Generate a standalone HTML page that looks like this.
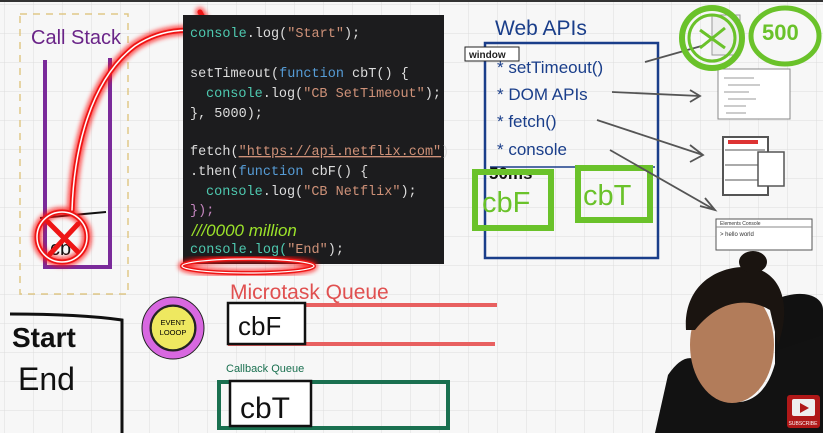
<!DOCTYPE html>
<html><head><meta charset="utf-8"><style>
html,body{margin:0;padding:0;width:823px;height:433px;overflow:hidden;background:#f5f5f5}
svg{display:block}
.code{font-family:"Liberation Mono",monospace;font-size:13.5px}
.hand{font-family:"Liberation Sans",sans-serif}
</style></head><body>
<svg width="823" height="433" viewBox="0 0 823 433" xmlns="http://www.w3.org/2000/svg">
<defs>
<pattern id="g" width="29" height="29" patternUnits="userSpaceOnUse" x="5" y="5">
<path d="M29 0V29H0" fill="none" stroke="#dcdcdc" stroke-width="1"/></pattern>
<filter id="glow" x="-20%" y="-20%" width="140%" height="140%"><feGaussianBlur stdDeviation="2.5"/></filter>
</defs>
<rect width="823" height="433" fill="#f7f7f7"/>
<rect width="823" height="433" fill="url(#g)"/>
<rect x="0" y="0" width="823" height="2" fill="#333"/>

<!-- Call stack -->
<rect x="20" y="14" width="108" height="280" fill="none" stroke="#e0c888" stroke-width="1.5" stroke-dasharray="7 6"/>
<text x="31" y="44" class="hand" font-size="20" fill="#6a2488">Call Stack</text>
<path d="M45 60V267H110V58" fill="none" stroke="#7a2a9a" stroke-width="4"/>
<path d="M40 218L106 212" stroke="#111" stroke-width="2"/>
<text x="50" y="255" class="hand" font-size="20" fill="#111">cb</text>
<g fill="none" stroke-linecap="round">
<g stroke="#ff1010" stroke-width="9" filter="url(#glow)" opacity="0.8">
<circle cx="62" cy="237" r="25"/>
<path d="M72 210C74 150 90 80 135 46C165 26 200 28 212 36M200 12C205 22 212 30 212 36"/>
</g>
<g stroke="#ee1515" stroke-width="5">
<circle cx="62" cy="237" r="25"/>
<path d="M48 222L78 252M78 224L50 254"/>
<path d="M72 210C74 150 90 80 135 46C165 26 200 28 212 36M200 12C205 22 212 30 212 36"/>
</g>
<g stroke="#fff" stroke-width="1.5">
<circle cx="62" cy="237" r="25"/>
<path d="M72 210C74 150 90 80 135 46C165 26 200 28 212 36"/>
</g>
</g>

<!-- Code panel -->
<rect x="183" y="15" width="261" height="249" fill="#1c1c1e"/>
<g class="code">
<text x="190" y="37"><tspan fill="#4ec9b0">console</tspan><tspan fill="#ddd">.log(</tspan><tspan fill="#ce9178">"Start"</tspan><tspan fill="#ddd">);</tspan></text>
<text x="190" y="77"><tspan fill="#ddd">setTimeout(</tspan><tspan fill="#569cd6">function</tspan><tspan fill="#ddd"> cbT() {</tspan></text>
<text x="206" y="97"><tspan fill="#4ec9b0">console</tspan><tspan fill="#ddd">.log(</tspan><tspan fill="#ce9178">"CB SetTimeout"</tspan><tspan fill="#ddd">);</tspan></text>
<text x="190" y="117" fill="#ddd">}, 5000);</text>
<text x="190" y="155"><tspan fill="#ddd">fetch(</tspan><tspan fill="#ce9178" text-decoration="underline">"https://api.netflix.com"</tspan><tspan fill="#ddd">)</tspan></text>
<text x="190" y="175"><tspan fill="#ddd">.then(</tspan><tspan fill="#569cd6">function</tspan><tspan fill="#ddd"> cbF() {</tspan></text>
<text x="206" y="195"><tspan fill="#4ec9b0">console</tspan><tspan fill="#ddd">.log(</tspan><tspan fill="#ce9178">"CB Netflix"</tspan><tspan fill="#ddd">);</tspan></text>
<text x="190" y="214" fill="#c586c0">});</text>
<text x="190" y="253"><tspan fill="#4ec9b0">console.log(</tspan><tspan fill="#ce9178">"End"</tspan><tspan fill="#ddd">);</tspan></text>
</g>
<text x="192" y="236" font-family="Liberation Sans,sans-serif" font-style="italic" font-size="17" fill="#9be22a">///0000 million</text>
<ellipse cx="248" cy="266" rx="66" ry="7" fill="none" stroke="#ff1010" stroke-width="7" filter="url(#glow)" opacity="0.8"/>
<ellipse cx="248" cy="266" rx="66" ry="7" fill="none" stroke="#ee1515" stroke-width="4"/>
<ellipse cx="248" cy="266" rx="66" ry="7" fill="none" stroke="#fff" stroke-width="1.2"/>

<!-- Web APIs -->
<text x="495" y="35" class="hand" font-size="21" fill="#1a3e8a">Web APIs</text>
<rect x="485" y="43" width="173" height="215" fill="none" stroke="#1a3e8a" stroke-width="2.5"/>
<rect x="465" y="47" width="54" height="14" fill="#fff" stroke="#222"/>
<text x="469" y="58" font-family="Liberation Sans,sans-serif" font-size="10" font-weight="bold" fill="#222">window</text>
<g class="hand" font-size="17" fill="#1a3e8a">
<text x="497" y="73">* setTimeout()</text>
<text x="497" y="100">* DOM APIs</text>
<text x="497" y="127">* fetch()</text>
<text x="497" y="155">* console</text>
</g>
<path d="M490 167H655" stroke="#1a3e8a" stroke-width="1.5"/>
<text x="489" y="179" class="hand" font-weight="bold" font-size="17" fill="#111">50ms</text>
<rect x="475" y="172" width="76" height="56" fill="none" stroke="#6ac22a" stroke-width="6"/>
<text x="482" y="212" class="hand" font-size="29" fill="#6ac22a">cbF</text>
<rect x="578" y="168" width="72" height="52" fill="none" stroke="#6ac22a" stroke-width="6"/>
<text x="583" y="205" class="hand" font-size="29" fill="#6ac22a">cbT</text>
<g stroke="#555" stroke-width="1.8" fill="none">
<path d="M645 62L705 45"/>
<path d="M612 92L700 96M690 90L700 96L690 102"/>
<path d="M597 120L703 155M690 145L703 155L690 162"/>
<path d="M610 150L715 210M700 206L715 210L705 198"/>
</g>
<!-- right screenshots -->
<rect x="718" y="69" width="72" height="50" fill="#fff" stroke="#888"/>
<g stroke="#999"><path d="M724 78h30M728 85h32M724 92h25M728 99h28M724 106h22M726 113h20"/></g>
<rect x="723" y="137" width="45" height="58" fill="#fff" stroke="#555" stroke-width="2"/>
<rect x="728" y="140" width="30" height="4" fill="#d33"/>
<g stroke="#555"><path d="M725 150h40M725 165h40M725 180h40"/></g>
<rect x="758" y="152" width="26" height="34" fill="#fff" stroke="#555" stroke-width="1.5"/>
<rect x="716" y="219" width="96" height="31" fill="#fff" stroke="#555"/>
<path d="M716 227H812" stroke="#888"/>
<text x="720" y="225" font-family="Liberation Sans,sans-serif" font-size="5" fill="#333">Elements  Console</text>
<text x="720" y="236" font-family="Liberation Sans,sans-serif" font-size="6" fill="#333">&gt; hello world</text>
<!-- top right green -->
<rect x="712" y="15" width="28" height="40" fill="#eee" stroke="#999"/>
<circle cx="712" cy="38" r="30" fill="none" stroke="#6ac22a" stroke-width="6"/>
<circle cx="712" cy="38" r="23" fill="none" stroke="#6ac22a" stroke-width="3"/>
<path d="M700 30L725 48M700 48L725 28" stroke="#6ac22a" stroke-width="3"/>
<ellipse cx="785" cy="36" rx="34" ry="28" fill="#f7f7f7" stroke="#6ac22a" stroke-width="5"/>
<text x="762" y="40" class="hand" font-weight="bold" font-size="22" fill="#6ac22a">500</text>

<!-- Start End -->
<path d="M10 314Q80 314 122 320V433" fill="none" stroke="#111" stroke-width="3"/>
<text x="12" y="347" class="hand" font-weight="bold" font-size="28" fill="#111">Start</text>
<text x="18" y="390" font-family="Liberation Sans,sans-serif" font-size="32" fill="#111">End</text>

<!-- Event loop -->
<circle cx="173" cy="328" r="27" fill="none" stroke="#222" stroke-width="9"/>
<circle cx="173" cy="328" r="27" fill="none" stroke="#d868e0" stroke-width="7"/>
<circle cx="173" cy="328" r="22" fill="#eee860" stroke="#222" stroke-width="1.5"/>
<text x="173" y="325" text-anchor="middle" font-family="Liberation Sans,sans-serif" font-size="7.5">EVENT</text>
<text x="173" y="335" text-anchor="middle" font-family="Liberation Sans,sans-serif" font-size="7.5">LOOOP</text>

<!-- Microtask -->
<text x="230" y="299" class="hand" font-size="21" fill="#e05050">Microtask Queue</text>
<path d="M228 305H497M228 344H495" stroke="#e86060" stroke-width="4"/>
<rect x="228" y="303" width="77" height="41" fill="#fff" stroke="#111" stroke-width="2.5"/>
<text x="238" y="335" font-family="Liberation Sans,sans-serif" font-size="26" fill="#111">cbF</text>

<!-- Callback -->
<text x="226" y="372" font-family="Liberation Sans,sans-serif" font-size="11" fill="#1a7050">Callback Queue</text>
<rect x="219" y="382" width="229" height="46" fill="none" stroke="#1a7050" stroke-width="4"/>
<rect x="230" y="381" width="81" height="45" fill="#fff" stroke="#111" stroke-width="2.5"/>
<text x="240" y="418" font-family="Liberation Sans,sans-serif" font-size="30" fill="#111">cbT</text>

<!-- Person -->
<path d="M775 300C800 288 823 295 823 310V370L775 365Z" fill="#111"/>
<path d="M655 433L668 375Q685 350 700 362L740 402Q770 398 778 350L823 335V433Z" fill="#121212"/>
<ellipse cx="732" cy="345" rx="42" ry="58" fill="#b27c5a"/>
<path d="M686 330C683 285 718 265 750 267C782 272 792 305 778 345L770 310C750 298 720 298 695 330Z" fill="#1a1410"/>
<ellipse cx="753" cy="262" rx="14" ry="11" fill="#1a1410"/>
<rect x="787" y="395" width="33" height="33" rx="3" fill="#b01818"/>
<rect x="792" y="399" width="23" height="17" rx="2" fill="#eee"/>
<path d="M800 403L809 408L800 413Z" fill="#b01818"/>
<text x="803" y="425" text-anchor="middle" font-family="Liberation Sans,sans-serif" font-size="5" fill="#fff">SUBSCRIBE</text>
</svg>
</body></html>
